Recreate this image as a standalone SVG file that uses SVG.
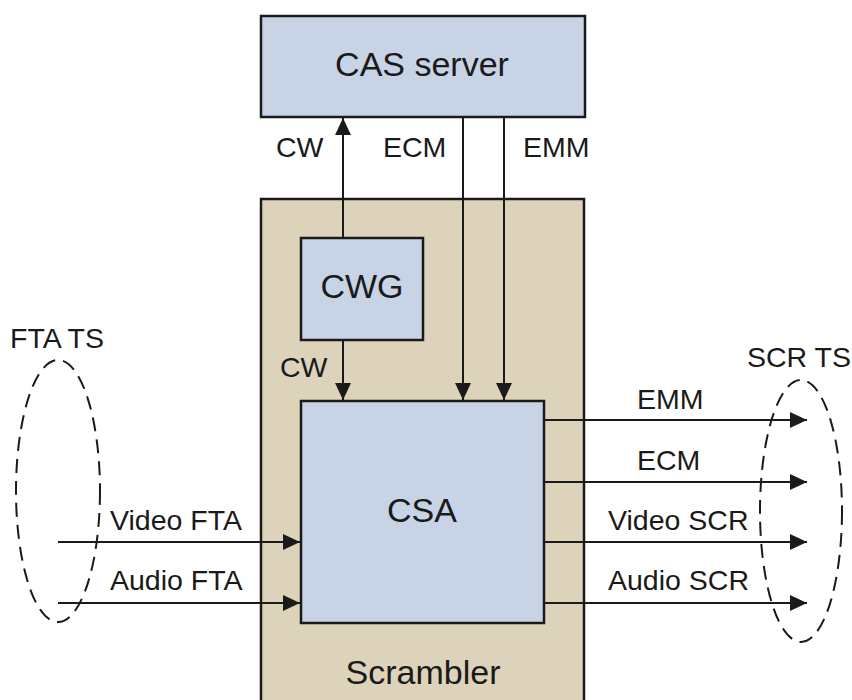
<svg xmlns="http://www.w3.org/2000/svg" width="852" height="700" viewBox="0 0 852 700">
<style>
.box{stroke:#1a1a1a;stroke-width:2.5}
.blue{fill:#c8d3e6}
.tan{fill:#ddd3bb}
.big{font-family:"Liberation Sans",Arial,sans-serif;font-size:34px;fill:#1a1a1a;text-anchor:middle}
.lbl{font-family:"Liberation Sans",Arial,sans-serif;font-size:28.5px;fill:#1a1a1a}
.ln{stroke:#1a1a1a;stroke-width:2;fill:none}
.ts{stroke:#1a1a1a;stroke-width:2;fill:none;stroke-dasharray:14 8}
</style>
<defs>
<marker id="ah" markerUnits="userSpaceOnUse" markerWidth="18" markerHeight="16" refX="17" refY="8" orient="auto">
<path d="M0,0 L17,8 L0,16 Z" fill="#1a1a1a"/>
</marker>
</defs>
<rect width="852" height="700" fill="#ffffff"/>
<g id="scrambler">
<rect class="box tan" x="261" y="199" width="323" height="515"/>
<text class="big" x="423" y="684">Scrambler</text>
</g>
<g id="cas-server">
<rect class="box blue" x="261" y="16" width="324" height="101"/>
<text class="big" x="422" y="76">CAS server</text>
</g>
<g id="cwg">
<rect class="box blue" x="301" y="238" width="122" height="102"/>
<text class="big" x="362" y="298">CWG</text>
</g>
<g id="csa">
<rect class="box blue" x="301" y="401" width="243" height="222"/>
<text class="big" x="422" y="522">CSA</text>
</g>
<g id="fta-ts">
<ellipse class="ts" cx="58" cy="491" rx="42" ry="131"/>
<text class="lbl" x="10" y="348">FTA TS</text>
</g>
<g id="scr-ts">
<ellipse class="ts" cx="801" cy="511" rx="41" ry="131"/>
<text class="lbl" x="747" y="367">SCR TS</text>
</g>
<g id="connectors">
<line class="ln" x1="343" y1="238" x2="343" y2="118" marker-end="url(#ah)"/>
<line class="ln" x1="463" y1="117" x2="463" y2="400" marker-end="url(#ah)"/>
<line class="ln" x1="504" y1="117" x2="504" y2="400" marker-end="url(#ah)"/>
<line class="ln" x1="343" y1="340" x2="343" y2="400" marker-end="url(#ah)"/>
<line class="ln" x1="58" y1="542" x2="300" y2="542" marker-end="url(#ah)"/>
<line class="ln" x1="58" y1="603" x2="300" y2="603" marker-end="url(#ah)"/>
<line class="ln" x1="544" y1="420" x2="807" y2="420" marker-end="url(#ah)"/>
<line class="ln" x1="544" y1="482" x2="807" y2="482" marker-end="url(#ah)"/>
<line class="ln" x1="544" y1="542" x2="807" y2="542" marker-end="url(#ah)"/>
<line class="ln" x1="544" y1="603" x2="807" y2="603" marker-end="url(#ah)"/>
<text class="lbl" x="276" y="157">CW</text>
<text class="lbl" x="383" y="157">ECM</text>
<text class="lbl" x="523" y="157">EMM</text>
<text class="lbl" x="280" y="377">CW</text>
<text class="lbl" x="110" y="530">Video FTA</text>
<text class="lbl" x="110" y="590">Audio FTA</text>
<text class="lbl" x="637" y="409">EMM</text>
<text class="lbl" x="637" y="470">ECM</text>
<text class="lbl" x="608" y="530">Video SCR</text>
<text class="lbl" x="608" y="590">Audio SCR</text>
</g>
</svg>
